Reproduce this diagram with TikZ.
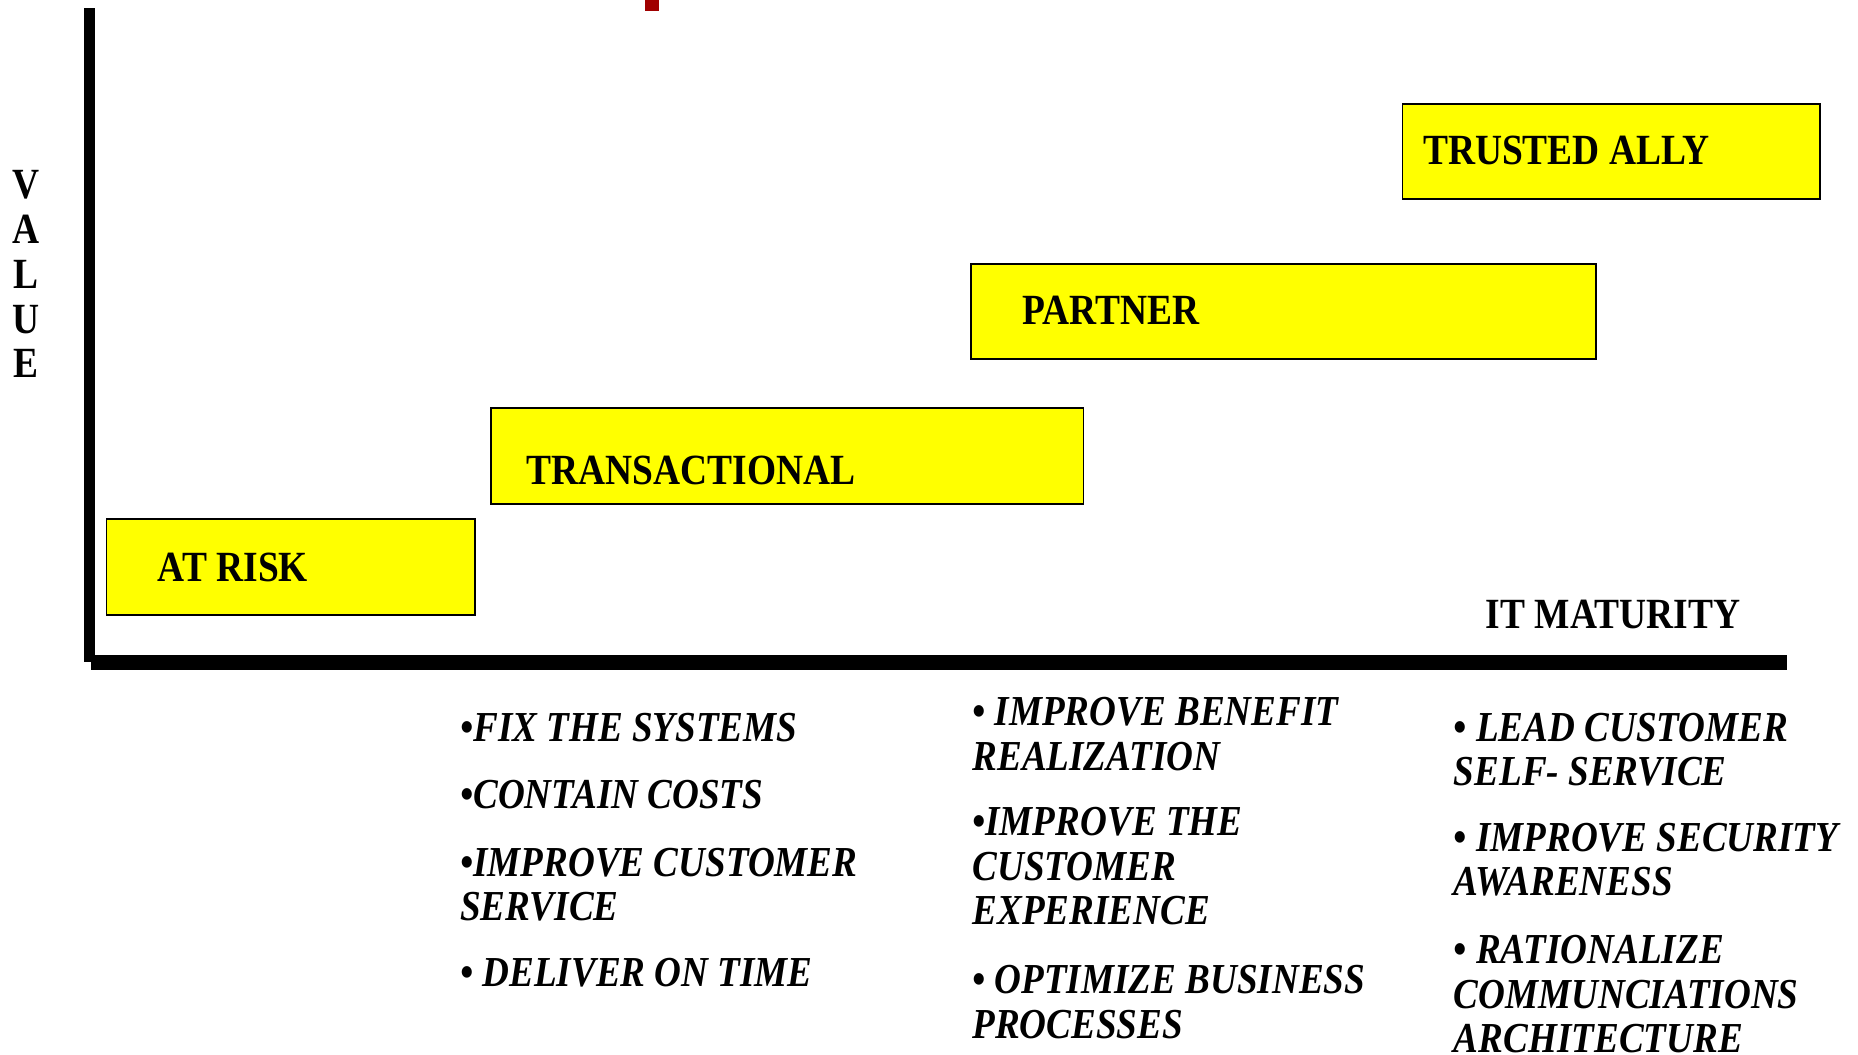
\documentclass[tikz,border=0pt]{standalone}
\usepackage{fontspec}
\setmainfont{Liberation Serif}[FakeStretch=0.87]
\definecolor{boxyellow}{HTML}{FFFF00}
\definecolor{markred}{HTML}{A00000}
\begin{document}
\begin{tikzpicture}[x=1pt,y=-1pt,
  stagebox/.style={draw=black,line width=1.6pt,fill=boxyellow,inner sep=0pt,anchor=north west},
  stagetext/.style={inner sep=0pt,anchor=base west,font=\fontsize{36.3}{37}\selectfont\bfseries},
  bullettext/.style={inner sep=0pt,anchor=base west,align=left,font=\fontsize{36}{37.5}\selectfont\bfseries\itshape},
  axisbar/.style={fill=black,draw=none}]
\useasboundingbox (0,0) rectangle (1567,889);
% red mark at top
\fill[markred] (544,0) rectangle (556,9);
% axes
\fill[axisbar] (71,7) rectangle (80,558);
\fill[axisbar] (77,552) rectangle (1507,565);
% VALUE label
\node[stagetext,anchor=base] (v1) at (22,167) {V};
\node[stagetext,anchor=base] (v2) at (22,205) {A};
\node[stagetext,anchor=base] (v3) at (22,243) {L};
\node[stagetext,anchor=base] (v4) at (22,281) {U};
\node[stagetext,anchor=base] (v5) at (22,318) {E};
% stage boxes
\node[stagebox,minimum width=311pt,minimum height=81pt] (atrisk) at (89,437) {};
\node[stagebox,minimum width=500pt,minimum height=81pt] (trans) at (413,343) {};
\node[stagebox,minimum width=527pt,minimum height=80pt] (partner) at (818,222) {};
\node[stagebox,minimum width=352pt,minimum height=80pt] (ally) at (1182,87) {};
\node[stagetext] (tatrisk) at (133,490) {AT RISK};
\node[stagetext] (ttrans) at (444,409) {TRANSACTIONAL};
\node[stagetext] (tpartner) at (862,274) {PARTNER};
\node[stagetext] (tally) at (1200,139) {TRUSTED ALLY};
\node[stagetext] (itm) at (1253,530) {IT MATURITY};
% bullet lists (anchor is the baseline of the last line)
\node[bullettext] (c1a) at (388,625) {•FIX THE SYSTEMS};
\node[bullettext] (c1b) at (388,682) {•CONTAIN COSTS};
\node[bullettext] (c1c) at (388,776.5) {•IMPROVE CUSTOMER\\SERVICE};
\node[bullettext] (c1d) at (388,832) {• DELIVER ON TIME};
\node[bullettext] (c2a) at (820,649.5) {• IMPROVE BENEFIT\\REALIZATION};
\node[bullettext] (c2b) at (820,780) {•IMPROVE THE\\CUSTOMER\\EXPERIENCE};
\node[bullettext] (c2c) at (820,875.5) {• OPTIMIZE BUSINESS\\PROCESSES};
\node[bullettext] (c3a) at (1226,662.5) {• LEAD CUSTOMER\\SELF- SERVICE};
\node[bullettext] (c3b) at (1226,755.5) {• IMPROVE SECURITY\\AWARENESS};
\node[bullettext] (c3c) at (1226,888) {• RATIONALIZE\\COMMUNCIATIONS\\ARCHITECTURE};
\end{tikzpicture}
\end{document}
